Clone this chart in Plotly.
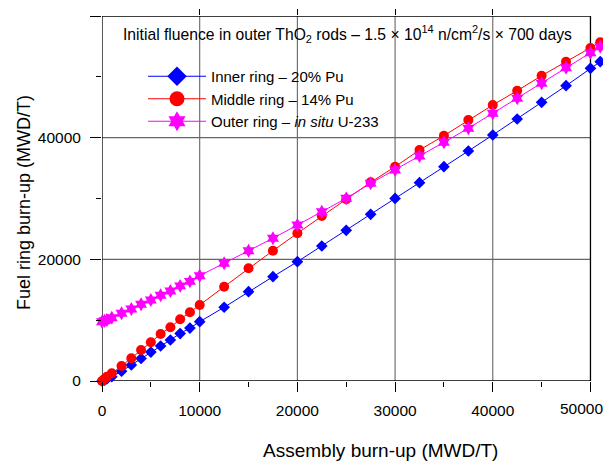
import plotly.graph_objects as go

# ---------------- data ----------------
assembly_burnup = [0, 250, 500, 1000, 2000, 3000, 4000, 5000, 6000, 7000, 8000, 9000,
                   10000, 12500, 15000, 17500, 20000, 22500, 25000, 27500, 30000,
                   32500, 35000, 37500, 40000, 42500, 45000, 47500, 50000, 51000]

inner_ring = [0, 160, 330, 710, 1600, 2630, 3700, 4750, 5750, 6740, 7800, 8700,
              9750, 12120, 14680, 17150, 19610, 22190, 24770, 27400, 30010,
              32600, 35230, 37810, 40440, 43070, 45810, 48540, 51400, 52490]

middle_ring = [0, 330, 700, 1260, 2470, 3730, 5100, 6360, 7730, 8830, 10140, 11290,
               12490, 15500, 18530, 21420, 24280, 27120, 29870, 32660, 35230,
               37970, 40320, 42900, 45370, 47720, 50190, 52490, 54740, 55680]

outer_ring = [9750, 9900, 10030, 10410, 11130, 11840, 12610, 13320, 14090, 14790, 15640, 16380,
              17310, 19350, 21420, 23460, 25640, 27830, 30030, 32500, 34690,
              36990, 39240, 41540, 44010, 46470, 48940, 51500, 53970, 54950]

series_names = ["Inner ring \u2013 20% Pu",
                "Middle ring \u2013 14% Pu",
                "Outer ring \u2013 <i>in situ</i> U-233"]

x_ticks = [0, 10000, 20000, 30000, 40000, 50000]
x_tick_labels = ["0", "10000", "20000", "30000", "40000", ""]
x_last_label = "50000"   # drawn shifted left so it stays inside the page
x_minor = [5000, 15000, 25000, 35000, 45000]
y_ticks = [0, 20000, 40000, 60000]
y_tick_labels = ["0", "20000", "40000", "60000"]
y_minor = [10000, 30000, 50000]
x_grid = [10000, 20000, 30000, 40000]
y_grid = [20000, 40000]
x_top_ticks = [10000, 20000, 30000, 40000]

title_text = ("Initial fluence in outer ThO<sub>2</sub> rods \u2013 1.5 \u00d7 10<sup>14</sup> "
              "n/cm<sup>2</sup>/s \u00d7 700 days")
x_title = "Assembly burn-up (MWD/T)"
y_title = "Fuel ring burn-up (MWD/T)"

# ---------------- layout geometry ----------------
# the page body adds an 8px offset; work in window pixels and convert
OFF = 8
W, H = 611 - OFF, 462 - OFF
PLOT_L, PLOT_T, PLOT_R, PLOT_B = 102, 16, 610, 381   # window pixels
ML, MT = PLOT_L - OFF, PLOT_T - OFF
MR = W - (PLOT_R - OFF)
MB = H - (PLOT_B - OFF)
PW, PH = PLOT_R - PLOT_L, PLOT_B - PLOT_T
X_MAX = 52000
FRAME_X = 50000
FRAME_Y = 60000


def px(xp):
    return (xp - PLOT_L) / PW


def py(yp):
    return (PLOT_B - yp) / PH


FONT = "Liberation Sans, Arial, sans-serif"
colors = ["#0000FF", "#FF0000", "#FF00FF"]
symbols = ["diamond", "circle", "hexagram"]
sizes = [9, 10, 10.5]
leg_sizes = [15, 15, 15]
ys = [inner_ring, middle_ring, outer_ring]

fig = go.Figure()
for i in range(3):
    fig.add_trace(go.Scatter(
        x=assembly_burnup, y=ys[i], mode="lines+markers",
        line=dict(color=colors[i], width=1),
        marker=dict(symbol=symbols[i], size=sizes[i], color=colors[i],
                    line=dict(width=0)),
        showlegend=False, cliponaxis=False, hoverinfo="skip"))

for i in range(3):
    fig.add_trace(go.Scatter(
        x=[None], y=[None], mode="lines+markers", name=series_names[i],
        line=dict(color=colors[i], width=1),
        marker=dict(symbol=symbols[i], size=leg_sizes[i], color=colors[i],
                    line=dict(width=0)),
        xaxis="x2", showlegend=True))

shapes = []
for gx in x_grid:
    shapes.append(dict(type="line", xref="x", yref="y", x0=gx, x1=gx, y0=0, y1=FRAME_Y,
                       line=dict(color="#666666", width=1.1), layer="below"))
for gy in y_grid:
    shapes.append(dict(type="line", xref="x", yref="y", x0=0, x1=FRAME_X, y0=gy, y1=gy,
                       line=dict(color="#666666", width=1.1), layer="below"))
# white backgrounds behind title text and legend text
shapes.append(dict(type="rect", xref="paper", yref="paper",
                   x0=px(112), x1=px(582), y0=py(52), y1=py(17.2),
                   fillcolor="white", line=dict(width=0), layer="below"))
shapes.append(dict(type="rect", xref="paper", yref="paper",
                   x0=px(205), x1=px(402), y0=py(129), y1=py(65),
                   fillcolor="white", line=dict(width=0), layer="below"))
# frame
shapes.append(dict(type="rect", xref="x", yref="y", x0=0, x1=FRAME_X, y0=0, y1=FRAME_Y,
                   line=dict(color="black", width=1.3), fillcolor="rgba(0,0,0,0)",
                   layer="below"))

annotations = [
    dict(text=title_text, xref="paper", yref="paper", x=px(347.5), y=py(34),
         xanchor="center", yanchor="middle", showarrow=False,
         font=dict(family=FONT, size=15.7, color="black")),
    dict(text=x_title, xref="paper", yref="paper", x=px(380.5), y=py(450),
         xanchor="center", yanchor="middle", showarrow=False,
         font=dict(family=FONT, size=19, color="black")),
    dict(text=y_title, xref="paper", yref="paper", x=px(24), y=py(203),
         xanchor="center", yanchor="middle", showarrow=False, textangle=-90,
         font=dict(family=FONT, size=18, color="black")),
    dict(text=x_last_label, xref="paper", yref="paper", x=px(581.5), y=py(409),
         xanchor="center", yanchor="middle", showarrow=False,
         font=dict(family=FONT, size=15.5, color="black")),
]

fig.update_layout(
    width=W, height=H,
    margin=dict(l=ML, r=MR, t=MT, b=MB, pad=0, autoexpand=False),
    paper_bgcolor="white", plot_bgcolor="white",
    font=dict(family=FONT, size=15.5, color="black"),
    shapes=shapes, annotations=annotations,
    legend=dict(x=px(143), y=py(60), xanchor="left", yanchor="top",
                bgcolor="rgba(0,0,0,0)", borderwidth=0, itemwidth=58,
                font=dict(family=FONT, size=15, color="black"),
                tracegroupgap=0),
    xaxis=dict(range=[0, X_MAX], tickmode="array", tickvals=x_ticks,
               ticktext=x_tick_labels, automargin=False,
               ticks="outside", ticklen=10, tickwidth=1, tickcolor="black",
               showgrid=False, zeroline=False, showline=False,
               ticklabelstandoff=5,
               minor=dict(tickvals=x_minor, ticks="outside", ticklen=5,
                          tickwidth=1, tickcolor="black", showgrid=False),
               tickfont=dict(family=FONT, size=15.5, color="black")),
    xaxis2=dict(range=[0, X_MAX], overlaying="x", side="top", tickmode="array",
                tickvals=x_top_ticks, ticks="outside", ticklen=6, tickwidth=1,
                tickcolor="black", showticklabels=False, showgrid=False,
                zeroline=False, showline=False, automargin=False),
    yaxis=dict(range=[0, FRAME_Y], tickmode="array", tickvals=y_ticks,
               ticktext=y_tick_labels, automargin=False,
               ticks="outside", ticklen=11, tickwidth=1, tickcolor="black",
               showgrid=False, zeroline=False, showline=False,
               ticklabelstandoff=6,
               minor=dict(tickvals=y_minor, ticks="outside", ticklen=5,
                          tickwidth=1, tickcolor="black", showgrid=False),
               tickfont=dict(family=FONT, size=15.5, color="black")),
)

fig.write_html("out.html")
